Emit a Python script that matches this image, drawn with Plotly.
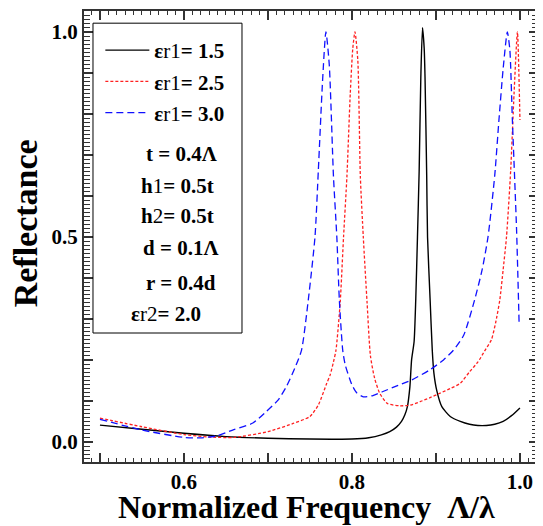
import plotly.graph_objects as go

# values
x_15 = [0.50, 0.55, 0.60, 0.65, 0.70, 0.75, 0.80, 0.82, 0.835, 0.845, 0.853, 0.859,
        0.863, 0.866, 0.869, 0.871, 0.874, 0.876, 0.878, 0.880, 0.882, 0.884, 0.886,
        0.887, 0.889, 0.890, 0.893, 0.8956, 0.8976, 0.901, 0.907, 0.917, 0.929,
        0.94, 0.95, 0.96, 0.97, 0.98, 0.99, 1.00]
r_15 = [0.041, 0.031, 0.021, 0.013, 0.009, 0.007, 0.007, 0.010, 0.017, 0.025, 0.036, 0.050,
        0.066, 0.086, 0.135, 0.20, 0.245, 0.35, 0.50, 0.66, 0.89, 1.01, 0.96,
        0.89, 0.65, 0.50, 0.35, 0.224, 0.167, 0.125, 0.086, 0.062, 0.050,
        0.043, 0.040, 0.040, 0.043, 0.050, 0.064, 0.083]

x_25 = [0.50, 0.55, 0.60, 0.63, 0.66, 0.70, 0.73, 0.75, 0.76, 0.77, 0.774, 0.778,
        0.781, 0.786, 0.790, 0.794, 0.798, 0.801, 0.8036, 0.807, 0.810, 0.8135,
        0.818, 0.822, 0.827, 0.833, 0.842, 0.857, 0.87, 0.881, 0.893, 0.905,
        0.917, 0.929, 0.940, 0.950, 0.958, 0.966, 0.971, 0.976, 0.980, 0.984,
        0.989, 0.993, 0.997, 1.000]
r_25 = [0.058, 0.037, 0.018, 0.012, 0.011, 0.025, 0.045, 0.062, 0.090, 0.143, 0.163, 0.195,
        0.224, 0.34, 0.50, 0.647, 0.85, 0.96, 1.00, 0.93, 0.647, 0.50,
        0.34, 0.21, 0.155, 0.119, 0.094, 0.088, 0.090, 0.098, 0.108, 0.119,
        0.130, 0.143, 0.171, 0.195, 0.222, 0.249, 0.29, 0.346, 0.42, 0.50,
        0.663, 0.85, 1.00, 0.785]

x_30 = [0.50, 0.55, 0.60, 0.62, 0.64, 0.658, 0.682, 0.698, 0.712, 0.722, 0.732, 0.740,
        0.748, 0.756, 0.760, 0.765, 0.769, 0.773, 0.778, 0.782, 0.785, 0.789,
        0.792, 0.800, 0.806, 0.8135, 0.825, 0.837, 0.855, 0.871, 0.893, 0.909,
        0.921, 0.933, 0.946, 0.955, 0.962, 0.970, 0.975, 0.980, 0.985, 0.988,
        0.991, 0.996, 0.999]
r_30 = [0.055, 0.029, 0.011, 0.010, 0.015, 0.029, 0.046, 0.074, 0.102, 0.135, 0.180, 0.224,
        0.346, 0.50, 0.663, 0.88, 1.00, 0.92, 0.647, 0.50, 0.346, 0.224,
        0.188, 0.139, 0.119, 0.110, 0.113, 0.123, 0.138, 0.151, 0.176, 0.200,
        0.224, 0.260, 0.346, 0.42, 0.50, 0.65, 0.785, 0.91, 1.00, 0.956,
        0.785, 0.517, 0.29]

names = ["<b>ε</b>r1<b>= 1.5</b>", "<b>ε</b>r1<b>= 2.5</b>", "<b>ε</b>r1<b>= 3.0</b>"]
params = ["t = 0.4Λ", "h1= 0.5t", "h2= 0.5t", "d = 0.1Λ", "r = 0.4d", "εr2= 2.0"]

FONT = "Liberation Serif, Times New Roman, serif"

fig = go.Figure()
fig.add_trace(go.Scatter(x=x_15, y=r_15, mode="lines", name=names[0], legendgroup="a",
                         line=dict(color="black", width=1.4, shape="spline", smoothing=0.6)))
fig.add_trace(go.Scatter(x=x_25, y=r_25, mode="lines", name=names[1], legendgroup="b",
                         line=dict(color="#ff2020", width=1.3, dash="3px,2px",
                                   shape="spline", smoothing=0.6)))
fig.add_trace(go.Scatter(x=x_30, y=r_30, mode="lines", name=names[2], legendgroup="c",
                         line=dict(color="#1010ff", width=1.3, dash="7px,4px",
                                   shape="spline", smoothing=0.6)))

# parameter text inside the legend box
param_x = [0.214, 0.207, 0.207, 0.212, 0.214, 0.180]
param_y = [0.684, 0.613, 0.546, 0.474, 0.396, 0.328]
for txt, px, py in zip(params, param_x, param_y):
    if txt.startswith("h"):
        txt = "<b>h</b>" + txt[1] + "<b>" + txt[2:] + "</b>"
    elif txt.startswith("εr"):
        txt = "<b>ε</b>r2<b>" + txt[3:] + "</b>"
    else:
        txt = "<b>" + txt + "</b>"
    fig.add_annotation(x=px, y=py, xref="paper", yref="paper", text=txt,
                       showarrow=False, xanchor="center", yanchor="middle",
                       font=dict(family=FONT, size=21, color="black"))

fig.add_shape(type="rect", xref="paper", yref="paper",
              x0=0.0198, x1=0.348, y0=0.286, y1=0.973,
              line=dict(color="black", width=1), fillcolor="rgba(0,0,0,0)")

# axis titles
fig.add_annotation(x=0.489, y=-0.1, xref="paper", yref="paper",
                   text="<b>Normalized Frequency  Λ/λ</b>", showarrow=False,
                   xanchor="center", yanchor="middle",
                   font=dict(family=FONT, size=32, color="black"))
fig.add_annotation(x=-0.127, y=0.53, xref="paper", yref="paper",
                   text="<b>Reflectance</b>", showarrow=False, textangle=-90,
                   xanchor="center", yanchor="middle",
                   font=dict(family=FONT, size=34, color="black"))

axis_common = dict(showline=True, mirror="ticks", linecolor="#333", linewidth=2,
                   ticks="inside", tickcolor="#333", showgrid=False, zeroline=False,
                   automargin=False,
                   tickfont=dict(family=FONT, size=21, color="black", weight="bold"))

fig.update_xaxes(range=[0.481, 1.0215],
                 tickvals=[0.5, 0.6, 0.7, 0.8, 0.9, 1.0],
                 ticktext=["", "0.6", "", "0.8", "", "1.0"],
                 ticklen=9, tickwidth=1.5, ticklabelstandoff=0,
                 minor=dict(tick0=0.5, dtick=0.01, ticklen=4, ticks="inside",
                            tickcolor="#333", tickwidth=1),
                 **axis_common)
fig.update_yaxes(range=[-0.049, 1.051],
                 tickvals=[0.0, 0.1, 0.2, 0.3, 0.4, 0.5, 0.6, 0.7, 0.8, 0.9, 1.0],
                 ticktext=["0.0", "", "", "", "", "0.5", "", "", "", "", "1.0"],
                 ticklen=9, tickwidth=1.5, ticklabelstandoff=0,
                 minor=dict(tick0=0.0, dtick=0.01, ticklen=6, ticks="inside",
                            tickcolor="#333", tickwidth=1),
                 **axis_common)

# the page adds an 8px body margin, so the margins below are shifted by it
fig.update_layout(
    width=543, height=526,
    margin=dict(l=76, r=13, t=3, b=72),
    plot_bgcolor="white", paper_bgcolor="white",
    font=dict(family=FONT, color="black"),
    legend=dict(x=0.036, y=0.958, xanchor="left", yanchor="top",
                bgcolor="rgba(0,0,0,0)", borderwidth=0, tracegroupgap=1,
                font=dict(family=FONT, size=21, color="black"),
                itemwidth=44),
)

fig.write_html("out.html")
